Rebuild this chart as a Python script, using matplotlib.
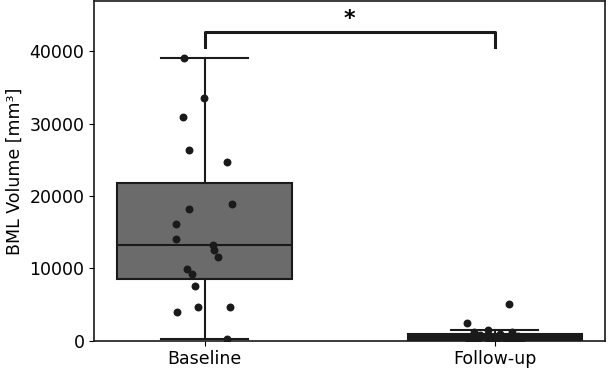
import matplotlib
matplotlib.use("Agg")
import matplotlib.pyplot as plt

# groups
groups = ["Baseline", "Follow-up"]
box_colors = ["#6b6b6b", "#1a1a1a"]

# box statistics
q1 = [8500, 0]
med = [13200, 400]
q3 = [21750, 950]
whislo = [200, 0]
whishi = [39000, 1500]

# individual BML volumes (mm^3)
baseline = [39000, 33560, 30900, 26300, 24650, 18900, 18160, 16100, 14070,
            13240, 12500, 11500, 9890, 9240, 7590, 4650, 4600, 3900, 200]
baseline_jit = [-0.071, -0.002, -0.073, -0.053, 0.079, 0.095, -0.054, -0.098, -0.098,
                0.030, 0.031, 0.046, -0.061, -0.044, -0.032, -0.023, 0.089, -0.094, 0.077]
followup = [5060, 2440, 1500, 1200, 1200, 900, 800, 600, 500, 400,
            300, 200, 100, 0, 0, 0, 0, 0, 0]
followup_jit = [0.049, -0.094, -0.022, -0.070, 0.059, 0.02, -0.05, 0.08, -0.03, 0.01,
                0.06, -0.08, 0.04, -0.06, 0.0, 0.07, -0.02, 0.09, -0.09]

# significance bracket
bracket_y = 42600
bracket_drop = 40600
star_label = "*"

plt.rcParams['font.family'] = 'DejaVu Sans'
plt.rcParams['font.size'] = 12.5

fig = plt.figure(figsize=(6.08, 3.71), dpi=100)
ax = fig.add_axes([0.155, 0.0817, 0.84, 0.915])

stats = []
for i, g in enumerate(groups):
    stats.append(dict(label=g, q1=q1[i], med=med[i], q3=q3[i],
                      whislo=whislo[i], whishi=whishi[i], fliers=[]))

bp = ax.bxp(stats, positions=[0, 1], widths=0.6, patch_artist=True, showfliers=False,
            boxprops=dict(edgecolor="#1a1a1a", linewidth=1.5),
            medianprops=dict(color="#1a1a1a", linewidth=1.5),
            whiskerprops=dict(color="#1a1a1a", linewidth=1.5),
            capprops=dict(color="#1a1a1a", linewidth=1.5),
            capwidths=0.3)
for patch, c in zip(bp["boxes"], box_colors):
    patch.set_facecolor(c)

ax.scatter([0 + j for j in baseline_jit], baseline, s=22, color="#1a1a1a", zorder=3)
ax.scatter([1 + j for j in followup_jit], followup, s=22, color="#1a1a1a", zorder=3)

ax.plot([0, 0, 1, 1], [bracket_drop, bracket_y, bracket_y, bracket_drop],
        color="#1a1a1a", linewidth=2.2)
ax.text(0.5, bracket_y + 400, star_label, ha="center", va="bottom",
        fontsize=16, fontweight="bold")

ax.set_xlim(-0.38, 1.38)
ax.set_ylim(0, 46900)
ax.set_yticks([0, 10000, 20000, 30000, 40000])
ax.set_xticks([0, 1])
ax.set_xticklabels(groups)
ax.set_ylabel("BML Volume [mm³]")
for s in ax.spines.values():
    s.set_color("#1a1a1a")
    s.set_linewidth(1.2)

fig.savefig("out.png", dpi=100)
